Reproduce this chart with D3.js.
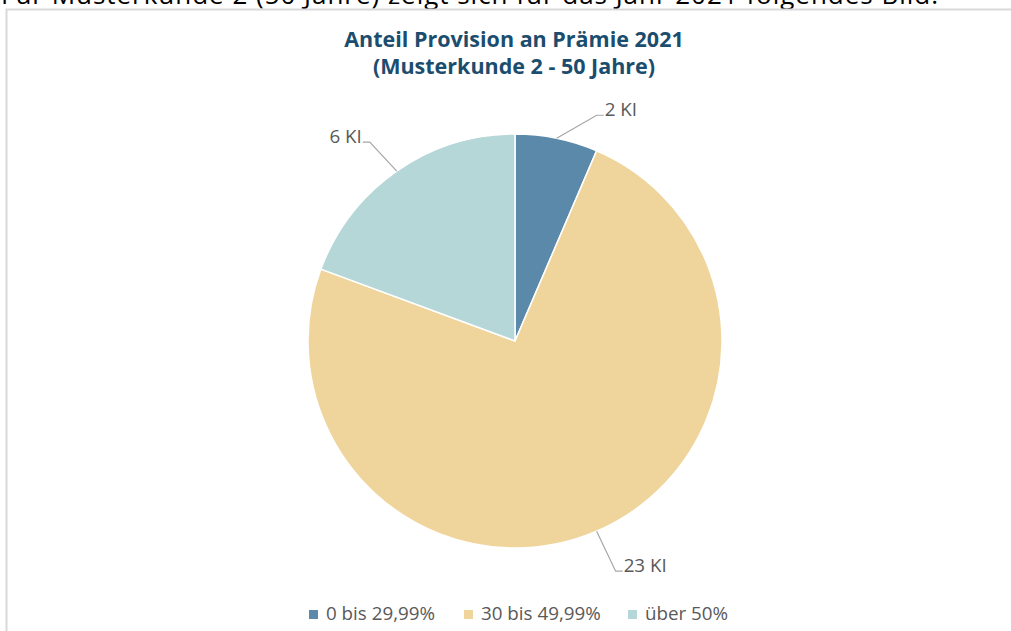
<!DOCTYPE html>
<html>
<head>
<meta charset="utf-8">
<script src="https://cdn.jsdelivr.net/npm/d3@7"></script>
<style>
  html, body { margin: 0; padding: 0; background: #ffffff; }
  svg { display: block; }
  text { font-family: "Open Sans", "Noto Sans", sans-serif; }
</style>
</head>
<body>
<svg id="chart" width="1011" height="631"></svg>
<script>
// Chart data
const categories = ["0 bis 29,99%", "30 bis 49,99%", "über 50%"];
const values = [2, 23, 6];
const valueLabels = ["2 KI", "23 KI", "6 KI"];
const colors = ["#5b89aa", "#efd59b", "#b5d7d8"];
const titleLines = ["Anteil Provision an Prämie 2021", "(Musterkunde 2 - 50 Jahre)"];
const introText = "Für Musterkunde 2 (50 Jahre) zeigt sich für das Jahr 2021 folgendes Bild.";

const W = 1011, H = 631;
const svg = d3.select("#chart");

// Surrounding paragraph line (partially scrolled off the top)
svg.append("text")
  .attr("x", 1).attr("y", 4)
  .attr("font-size", 26)
  .attr("textLength", 937)
  .attr("lengthAdjust", "spacing")
  .attr("fill", "#000")
  .text(introText);

// Chart frame
svg.append("path")
  .attr("d", `M6.5,${H + 2} V9.5 H${W + 2}`)
  .attr("fill", "none")
  .attr("stroke", "#d9d9d9")
  .attr("stroke-width", 2);

// Title
const title = svg.append("text")
  .attr("x", 514).attr("text-anchor", "middle")
  .attr("font-weight", 700).attr("font-size", 21.5)
  .attr("fill", "#1b4d6e");
title.selectAll("tspan").data(titleLines).join("tspan")
  .attr("x", 514)
  .attr("y", (d, i) => 47 + i * 27)
  .text(d => d);

// Pie
const cx = 515, cy = 341, R = 207;
const pie = d3.pie().sort(null).value(d => d);
const arcs = pie(values);
const arc = d3.arc().innerRadius(0).outerRadius(R);

const g = svg.append("g").attr("transform", `translate(${cx},${cy})`);
g.selectAll("path.slice").data(arcs).join("path")
  .attr("class", "slice")
  .attr("d", arc)
  .attr("fill", (d, i) => colors[i])
  .attr("stroke", "#ffffff")
  .attr("stroke-width", 1.5);

// Data labels with leader lines: start on the rim at the slice mid-angle,
// bend to an elbow, then run a short horizontal stub to the text.
const labelLayout = [
  { dx: 40, dy: -23, stub: 7, anchor: "start" },
  { dx: 19, dy: 40, stub: 7, anchor: "start" },
  { dx: -27, dy: -29, stub: -7, anchor: "end" }
];
arcs.forEach((a, i) => {
  const mid = (a.startAngle + a.endAngle) / 2;
  const x0 = Math.sin(mid) * R, y0 = -Math.cos(mid) * R;
  const L = labelLayout[i];
  const x1 = x0 + L.dx, y1 = y0 + L.dy;
  const x2 = x1 + L.stub;
  g.append("path")
    .attr("d", `M${x0},${y0} L${x1},${y1} L${x2},${y1}`)
    .attr("fill", "none")
    .attr("stroke", "#a6a6a6")
    .attr("stroke-width", 1.2);
  g.append("text")
    .attr("x", x2 + (L.anchor === "start" ? 1 : -1))
    .attr("y", y1 + 0.5)
    .attr("text-anchor", L.anchor)
    .attr("font-size", 18.8)
    .attr("fill", "#595959")
    .text(valueLabels[i]);
});

// Legend
const legendX = [309, 464, 628];
const legend = svg.append("g");
categories.forEach((c, i) => {
  legend.append("rect")
    .attr("x", legendX[i]).attr("y", 610)
    .attr("width", 9).attr("height", 9)
    .attr("fill", colors[i]);
  legend.append("text")
    .attr("x", legendX[i] + 17).attr("y", 620)
    .attr("font-size", 18.8)
    .attr("fill", "#595959")
    .text(c);
});
</script>
</body>
</html>
